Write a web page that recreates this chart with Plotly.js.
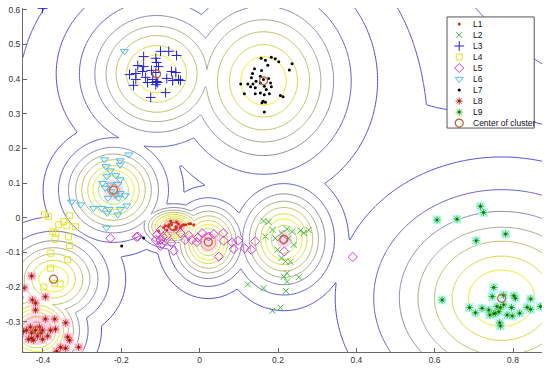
<!DOCTYPE html>
<html><head><meta charset="utf-8">
<script src="https://cdn.plot.ly/plotly-3.0.1.min.js"></script>
<style>html,body{margin:0;padding:0;background:#fff}#chart{width:550px;height:372px}</style>
</head><body><div id="chart"></div>
<script>
// ---- scatter data ----
const L1x=[-0.105,-0.092,-0.087,-0.084,-0.079,-0.079,-0.072,-0.072,-0.066,-0.061,-0.061,-0.054,-0.049,-0.046,-0.041,-0.036,-0.028,-0.023,-0.015,-0.059,-0.074];
const L1y=[-0.038,-0.029,-0.023,-0.035,-0.020,-0.026,-0.014,-0.020,-0.035,-0.026,-0.032,-0.017,-0.029,-0.023,-0.020,-0.020,-0.017,-0.017,-0.020,-0.012,-0.009];
const L2x=[0.163,0.176,0.186,0.168,0.193,0.209,0.223,0.236,0.227,0.257,0.266,0.278,0.199,0.240,0.209,0.232,0.219,0.223,0.215,0.253,0.223,0.123,0.163,0.220,0.186,0.206];
const L2y=[-0.009,-0.012,-0.035,-0.054,-0.059,-0.044,-0.033,-0.040,-0.059,-0.037,-0.044,-0.035,-0.092,-0.078,-0.116,-0.127,-0.126,-0.160,-0.170,-0.171,-0.184,-0.192,-0.203,-0.211,-0.268,-0.259];
const L3x=[-0.143,-0.100,-0.079,-0.059,-0.158,-0.143,-0.112,-0.110,-0.105,-0.179,-0.163,-0.146,-0.123,-0.112,-0.072,-0.061,-0.163,-0.138,-0.120,-0.110,-0.084,-0.069,-0.054,-0.049,-0.112,-0.107,-0.169,-0.133,-0.087,-0.125,-0.401];
const L3y=[0.465,0.480,0.480,0.468,0.439,0.436,0.460,0.448,0.436,0.413,0.416,0.422,0.425,0.419,0.422,0.419,0.399,0.405,0.399,0.393,0.402,0.396,0.399,0.396,0.384,0.390,0.382,0.390,0.361,0.347,0.604];
const L4x=[-0.396,-0.386,-0.332,-0.347,-0.360,-0.317,-0.375,-0.367,-0.339,-0.369,-0.335,-0.332,-0.380,-0.337,-0.381,-0.370,-0.356,-0.398];
const L4y=[0.009,0.004,0.006,-0.011,-0.020,-0.026,-0.040,-0.044,-0.023,-0.062,-0.055,-0.080,-0.102,-0.121,-0.145,-0.189,-0.191,-0.200];
const L5x=[-0.228,-0.161,-0.158,-0.112,-0.109,-0.100,-0.100,-0.096,-0.100,-0.094,-0.084,-0.072,-0.066,-0.049,-0.037,-0.028,-0.020,-0.007,-0.004,0.006,0.023,0.036,0.060,0.061,0.049,0.083,0.087,0.098,0.115,0.132,0.142,0.213,0.216,0.391];
const L5y=[-0.059,-0.055,-0.054,-0.064,-0.049,-0.064,-0.035,-0.075,-0.081,-0.054,-0.052,-0.072,-0.095,-0.044,-0.064,-0.051,-0.064,-0.070,-0.057,-0.044,-0.054,-0.047,-0.044,-0.066,-0.112,-0.071,-0.090,-0.066,-0.088,-0.092,-0.068,-0.064,-0.097,-0.113];
const L6x=[-0.181,-0.243,-0.203,-0.239,-0.228,-0.203,-0.237,-0.214,-0.203,-0.248,-0.228,-0.209,-0.241,-0.227,-0.215,-0.203,-0.190,-0.234,-0.207,-0.250,-0.231,-0.203,-0.186,-0.271,-0.236,-0.209,-0.327,-0.304,-0.238,-0.192];
const L6y=[0.182,0.168,0.165,0.148,0.136,0.153,0.119,0.122,0.110,0.100,0.095,0.097,0.086,0.076,0.066,0.071,0.064,0.057,0.057,0.028,0.025,0.025,0.035,0.028,0.014,0.009,0.046,0.038,-0.029,0.480];
const L7x=[0.157,0.183,0.193,0.202,0.168,0.174,0.236,0.229,0.140,0.158,0.135,0.155,0.132,0.176,0.163,0.144,0.105,0.123,0.136,0.155,0.181,0.130,0.142,0.165,0.170,0.183,0.114,0.142,0.155,0.165,0.178,0.206,0.213,0.162,0.168,0.159,0.165,-0.143,-0.199];
const L7y=[0.460,0.463,0.459,0.450,0.454,0.440,0.444,0.426,0.430,0.425,0.416,0.408,0.404,0.402,0.399,0.394,0.386,0.386,0.386,0.389,0.389,0.378,0.375,0.379,0.370,0.378,0.358,0.358,0.360,0.355,0.358,0.353,0.349,0.336,0.333,0.332,0.305,-0.058,-0.081];
const L8x=[-0.429,-0.448,-0.427,-0.419,-0.394,-0.419,-0.394,-0.370,-0.342,-0.442,-0.437,-0.414,-0.401,-0.381,-0.368,-0.337,-0.332,-0.355,-0.342,-0.309,-0.365,-0.429,-0.419,-0.450,-0.432,-0.401,-0.409,-0.429,-0.388,-0.424,-0.406];
const L8y=[-0.168,-0.202,-0.237,-0.246,-0.228,-0.266,-0.292,-0.292,-0.303,-0.324,-0.350,-0.341,-0.350,-0.324,-0.321,-0.344,-0.353,-0.373,-0.376,-0.373,-0.385,-0.332,-0.324,-0.327,-0.315,-0.324,-0.315,-0.347,-0.341,-0.353,-0.332];
const L9x=[0.717,0.725,0.606,0.657,0.781,0.706,0.619,0.751,0.747,0.776,0.802,0.845,0.689,0.704,0.721,0.738,0.741,0.751,0.759,0.768,0.776,0.764,0.785,0.798,0.796,0.806,0.817,0.836,0.845,0.870,0.766,0.768,0.755];
const L9y=[0.033,0.015,-0.006,-0.004,-0.047,-0.066,-0.237,-0.201,-0.227,-0.223,-0.225,-0.234,-0.259,-0.274,-0.261,-0.266,-0.280,-0.277,-0.256,-0.259,-0.251,-0.271,-0.280,-0.283,-0.259,-0.232,-0.275,-0.258,-0.264,-0.256,-0.303,-0.312,-0.275];

// ---- cluster centres and density model (L1..L9) ----
const centerX=[-0.066,0.215,-0.110,-0.373,0.022,-0.220,0.163,-0.416,0.771];
const centerY=[-0.025,-0.062,0.415,-0.177,-0.070,0.080,0.395,-0.324,-0.232];
const spreadX=[0.050,0.074,0.117,0.084,0.058,0.080,0.133,0.072,0.194];
const spreadY=[0.036,0.092,0.125,0.082,0.072,0.086,0.160,0.075,0.186];
const peak=[12.6,11.0,9.9,9.95,11.6,11.2,9.9,12.6,9.9];
const tailHeight=0.35, tailWidth=2.8;

// ---- contour levels and their line colours ----
const levels=[0.9,2.4,4.0,5.4,6.7,8.0,9.0,10.0,11.0,12.0];
const levelColors=['#4848d6','#5e5ec8','#8686aa','#a6a68a','#bebe64','#d6d644','#eeee1e','#b4e84a','#ff9c2c','#ff3c3c'];
const outerLevels=[0.5,0.22];
const outerColors=['#4a4adc','#5252dc'];

const xTicks=[-0.4,-0.2,0,0.2,0.4,0.6,0.8];
const xTickText=['-0.4','-0.2','0','0.2','0.4','0.6','0.8'];
const yTicks=[-0.3,-0.2,-0.1,0,0.1,0.2,0.3,0.4,0.5,0.6];
const yTickText=['-0.3','-0.2','-0.1','0','0.1','0.2','0.3','0.4','0.5','0.6'];

const X0=-0.451,X1=0.874,Y0=-0.387,Y1=0.605;
const NX=320,NY=240;
const gx=[],gy=[],zCore=[],zOuter=[],zPink=[];
for(let i=0;i<NX;i++)gx.push(X0+(X1-X0)*i/(NX-1));
for(let j=0;j<NY;j++)gy.push(Y0+(Y1-Y0)*j/(NY-1));
for(let j=0;j<NY;j++){const r1=[],r2=[];for(let i=0;i<NX;i++){let m=0,t=0;for(let k=0;k<peak.length;k++){const dx=(gx[i]-centerX[k])/spreadX[k],dy=(gy[j]-centerY[k])/spreadY[k];const d2=dx*dx+dy*dy;const v=peak[k]*Math.exp(-0.5*d2);if(v>m)m=v;t+=tailHeight*Math.exp(-0.5*d2/(tailWidth*tailWidth));}r1.push(m);r2.push(m+t);}zCore.push(r1);zOuter.push(r2);}

const traces=[];
// light pink tint inside the densest cores (heatmap of a masked copy)
for(let j=0;j<NY;j++){zPink.push(zCore[j].map(v=>v>10.6?1:null));}
traces.push({type:'heatmap',x:gx,y:gy,z:zPink,colorscale:[[0,'rgba(255,205,228,0.7)'],[1,'rgba(255,205,228,0.7)']],showscale:false,hoverinfo:'skip',zsmooth:false});
outerLevels.forEach((L,i)=>{
 traces.push({type:'contour',x:gx,y:gy,z:zOuter,autocontour:false,contours:{start:L,end:L,size:1,coloring:'none'},line:{width:1,color:outerColors[i],smoothing:1},showscale:false,hoverinfo:'skip',showlegend:false});
});
levels.forEach((L,i)=>{
 traces.push({type:'contour',x:gx,y:gy,z:zCore,autocontour:false,contours:{start:L,end:L,size:1,coloring:'none'},line:{width:1,color:levelColors[i],smoothing:1},showscale:false,hoverinfo:'skip',showlegend:false});
});

const series=[
 {n:'L1',x:L1x,y:L1y,m:{symbol:'circle',size:3,color:'#d42a1a'}},
 {n:'L2',x:L2x,y:L2y,m:{symbol:'x-thin-open',size:6,color:'#44b83c',line:{width:1,color:'#44b83c'}}},
 {n:'L3',x:L3x,y:L3y,m:{symbol:'cross-thin-open',size:7,color:'#2424d8',line:{width:1,color:'#2424d8'}}},
 {n:'L4',x:L4x,y:L4y,m:{symbol:'square-open',size:6,color:'#e4e420',line:{width:1,color:'#e4e420'}}},
 {n:'L5',x:L5x,y:L5y,m:{symbol:'diamond-open',size:7,color:'#d838d8',line:{width:1,color:'#d838d8'}}},
 {n:'L6',x:L6x,y:L6y,m:{symbol:'triangle-down-open',size:7,color:'#48bce8',line:{width:1,color:'#48bce8'}}},
 {n:'L7',x:L7x,y:L7y,m:{symbol:'circle',size:3,color:'#000000'}},
 {n:'L8',x:L8x,y:L8y,m:{symbol:'asterisk-open',size:6,color:'#e0302a',line:{width:1,color:'#e0302a'}},dot:'#6a2a10',bg:'#ffd2e4'},
 {n:'L9',x:L9x,y:L9y,m:{symbol:'asterisk-open',size:6,color:'#34c034',line:{width:1,color:'#34c034'}},dot:'#2a5a10',bg:'#bff6f6'}
];
series.forEach(s=>{
 if(s.bg)traces.push({type:'scatter',mode:'markers',x:s.x,y:s.y,marker:{symbol:'square',size:9,color:s.bg},hoverinfo:'skip',showlegend:false});
});
series.forEach(s=>{
 traces.push({type:'scatter',mode:'markers',x:s.x,y:s.y,marker:s.m,showlegend:false,name:s.n});
 if(s.dot)traces.push({type:'scatter',mode:'markers',x:s.x,y:s.y,marker:{symbol:'circle',size:2.5,color:s.dot},hoverinfo:'skip',showlegend:false});
});
const centreStyle={symbol:'circle-open',size:8,color:'#b8602c',line:{width:1.2,color:'#b8602c'}};
traces.push({type:'scatter',mode:'markers',x:centerX,y:centerY,marker:centreStyle,showlegend:false,name:'Center of cluster'});

// ---- legend (drawn in an inset subplot) ----
const legendNames=series.map(s=>s.n).concat(['Center of cluster']);
const legendStyles=series.map(s=>s.m).concat([centreStyle]);
const annotations=[];
legendNames.forEach((n,i)=>{
 traces.push({type:'scatter',mode:'markers',x:[0.14],y:[i],xaxis:'x2',yaxis:'y2',marker:legendStyles[i],hoverinfo:'skip',showlegend:false});
 if(series[i]&&series[i].dot)traces.push({type:'scatter',mode:'markers',x:[0.14],y:[i],xaxis:'x2',yaxis:'y2',marker:{symbol:'circle',size:2.5,color:series[i].dot},hoverinfo:'skip',showlegend:false});
 annotations.push({xref:'x2',yref:'y2',x:0.28,y:i,text:n,showarrow:false,xanchor:'left',yanchor:'middle',font:{family:'Liberation Sans, Arial, sans-serif',size:8.5,color:'#111'}});
});

const axFont={family:'Liberation Sans, Arial, sans-serif',size:8.5,color:'#333'};
const layout={
 width:550,height:372,margin:{l:23,r:8,t:8,b:20},paper_bgcolor:'#fff',plot_bgcolor:'#fff',
 xaxis:{range:[X0,X1],tickvals:xTicks,ticktext:xTickText,ticks:'inside',ticklen:4,tickcolor:'#666',showline:true,linecolor:'#6a6a6a',linewidth:1,showgrid:false,zeroline:false,tickfont:axFont},
 yaxis:{range:[Y0,Y1],tickvals:yTicks,ticktext:yTickText,ticks:'inside',ticklen:4,tickcolor:'#666',showline:true,linecolor:'#6a6a6a',linewidth:1,showgrid:false,zeroline:false,tickfont:axFont},
 xaxis2:{domain:[0.817,0.985],range:[0,1],anchor:'y2',visible:false,fixedrange:true},
 yaxis2:{domain:[0.651,0.974],range:[9.45,-0.64],anchor:'x2',visible:false,fixedrange:true},
 shapes:[{type:'rect',xref:'x2 domain',yref:'y2 domain',x0:0,x1:1,y0:0,y1:1,line:{color:'#555',width:1},fillcolor:'rgba(0,0,0,0)',layer:'above'}],
 annotations:annotations,showlegend:false
};
Plotly.newPlot('chart',traces,layout,{staticPlot:true,displayModeBar:false});
</script></body></html>
